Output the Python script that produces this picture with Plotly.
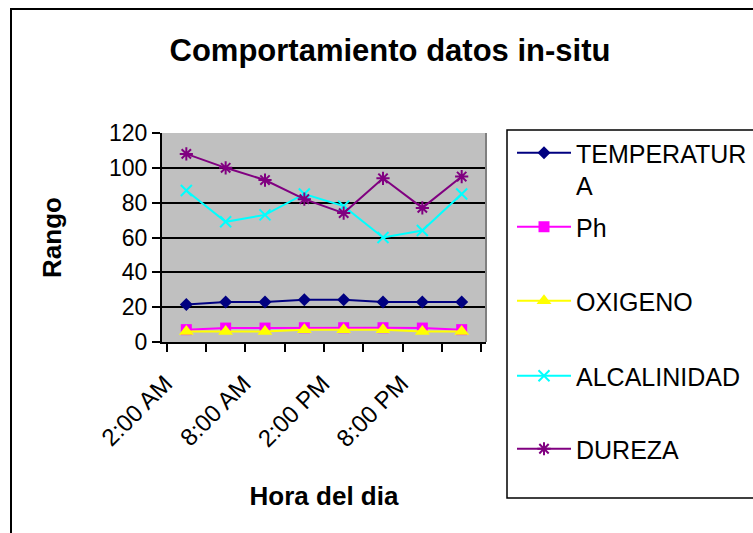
import plotly.graph_objects as go

# Sampling times (every 3 hours) and measured values
hours = ["2:00 AM", "5:00 AM", "8:00 AM", "11:00 AM", "2:00 PM", "5:00 PM", "8:00 PM", "11:00 PM"]
temperatura = [21.6, 23.0, 23.0, 24.3, 24.3, 23.0, 23.0, 23.0]
ph = [7.1, 8.0, 8.0, 8.2, 8.2, 8.2, 8.0, 7.1]
oxigeno = [6.0, 6.0, 6.0, 7.0, 7.0, 7.0, 6.0, 6.0]
alcalinidad = [87, 69, 73, 85, 78, 60, 64, 85]
dureza = [108, 100, 93, 82, 74, 94, 77, 95]

series_names = ["TEMPERATUR<br>A", "Ph", "OXIGENO", "ALCALINIDAD", "DUREZA"]
series_values = [temperatura, ph, oxigeno, alcalinidad, dureza]
series_colors = ["#000080", "#FF00FF", "#FFFF00", "#00FFFF", "#800080"]
series_symbols = ["diamond", "square", "triangle-up", "x-thin-open", "asterisk-open"]
series_sizes = [10, 11, 13, 11, 11]

W, H = 753, 533
PL, PR, PT, PB = 162, 486, 133, 342          # plot area edges in px
FONT = "Liberation Sans, Arial, sans-serif"

# legend row centres (px from top)
legend_rows = [154, 228, 302, 377, 450]


def px_to_paper_x(px):
    return (px - PL) / (PR - PL)


def px_to_paper_y(py):
    return (PB - py) / (PB - PT)


fig = go.Figure()
for i, (name, vals, col, sym, sz) in enumerate(
        zip(series_names, series_values, series_colors, series_symbols, series_sizes)):
    leg = "legend" if i == 0 else f"legend{i + 1}"
    fig.add_trace(go.Scatter(
        x=hours, y=vals, name=name, mode="lines+markers",
        line=dict(color=col, width=2),
        marker=dict(symbol=sym, size=sz, color=col,
                    line=dict(color=col, width=2 if "open" in sym else 0)),
        legend=leg, showlegend=True,
    ))

legend_layouts = {}
for i, row in enumerate(legend_rows):
    key = "legend" if i == 0 else f"legend{i + 1}"
    legend_layouts[key] = dict(
        xref="container", yref="container",
        x=512 / W, y=1 - (row - 24) / H,
        xanchor="left", yanchor="top",
        bgcolor="rgba(0,0,0,0)", borderwidth=0,
        font=dict(family=FONT, size=25, color="black"),
        itemwidth=54, valign="top",
    )

fig.update_layout(
    width=W, height=H,
    margin=dict(l=PL, r=W - PR, t=PT, b=H - PB, autoexpand=False),
    paper_bgcolor="white",
    plot_bgcolor="#C0C0C0",
    font=dict(family=FONT, size=22, color="black"),
    title=dict(
        text="<b>Comportamiento datos in-situ</b>",
        font=dict(family=FONT, size=31, color="black"),
        xref="container", yref="container",
        x=390 / W, y=1 - 50 / H, xanchor="center", yanchor="middle",
    ),
    **legend_layouts,
)

fig.update_xaxes(
    type="category",
    tickmode="array", tickvals=hours,
    ticktext=[h if i % 2 == 0 else "" for i, h in enumerate(hours)],
    tickangle=-45, tickson="boundaries",
    ticks="outside", ticklen=8, tickwidth=2, tickcolor="black",
    tickfont=dict(family=FONT, size=24, color="black"),
    ticklabelstandoff=16, ticklabelshift=-21,
    showline=True, linecolor="black", linewidth=2,
    showgrid=False,
    title=dict(text="<b>Hora del dia</b>", font=dict(family=FONT, size=26, color="black"),
               standoff=36),
)

fig.update_yaxes(
    range=[0, 120], dtick=20, tick0=0,
    ticks="outside", ticklen=8, tickwidth=2, tickcolor="black",
    tickfont=dict(family=FONT, size=23, color="black"),
    showline=True, linecolor="black", linewidth=2,
    showgrid=True, gridcolor="black", gridwidth=1.5,
    zeroline=False,
    title=dict(text="<b>Rango</b>", font=dict(family=FONT, size=26, color="black"),
               standoff=40),
)

# right edge of the plot area
fig.add_shape(type="line", xref="paper", yref="paper",
              x0=1, x1=1, y0=0, y1=1, line=dict(color="#808080", width=2))

# legend frame
fig.add_shape(type="rect", xref="paper", yref="paper",
              x0=px_to_paper_x(507), x1=px_to_paper_x(765),
              y0=px_to_paper_y(498), y1=px_to_paper_y(130),
              line=dict(color="black", width=1.5), layer="above")

# chart frame
fig.add_shape(type="rect", xref="paper", yref="paper",
              x0=px_to_paper_x(11), x1=px_to_paper_x(770),
              y0=px_to_paper_y(545), y1=px_to_paper_y(9),
              line=dict(color="black", width=2), layer="above")

fig.write_html("out.html")
